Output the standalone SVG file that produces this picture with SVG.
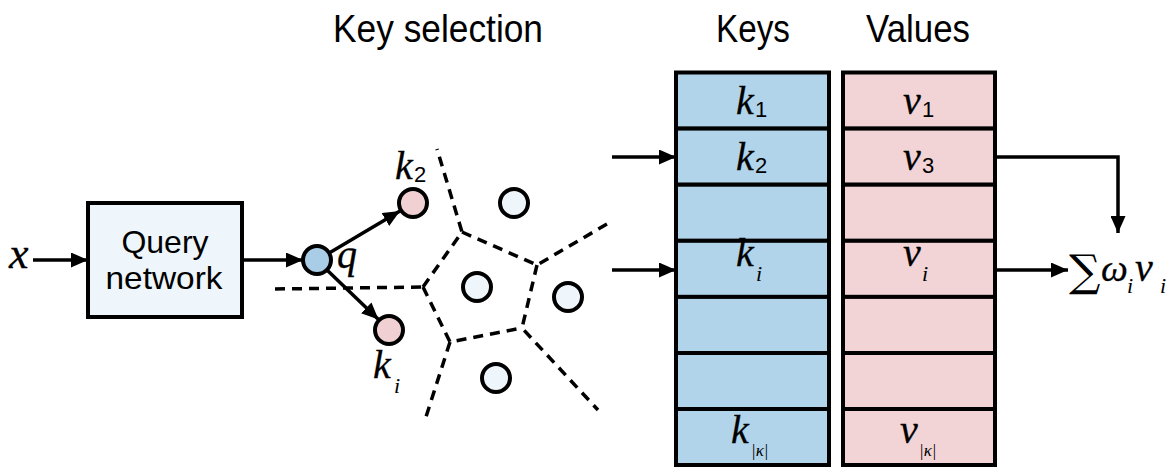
<svg xmlns="http://www.w3.org/2000/svg" width="1174" height="474" viewBox="0 0 1174 474">
<style>
.title{font-family:"Liberation Sans",Arial,sans-serif;font-size:38px;fill:#000}
.box{font-family:"Liberation Sans",Arial,sans-serif;font-size:32px;fill:#000}
.m{font-family:"Liberation Serif","Times New Roman",serif;font-style:italic;font-size:40px;fill:#000;stroke:#000;stroke-width:0.3}
.sub{font-family:"Liberation Sans",Arial,sans-serif;font-size:22px;fill:#000}
.subi{font-family:"Liberation Serif",serif;font-style:italic;font-size:22px;fill:#000}
.subk{font-family:"Liberation Serif",serif;font-style:italic;font-size:17px;fill:#000}
.ln{stroke:#000;stroke-width:3.5;fill:none}
.dash{stroke:#000;stroke-width:3.5;fill:none;stroke-dasharray:10 7}
.cell{stroke:#000;stroke-width:4}
.key{fill:#b1d4ea}
.val{fill:#f2d4d6}
.pt{stroke:#000;stroke-width:4}
</style>
<defs>
<marker id="arr" viewBox="0 0 10 10" refX="10" refY="5" markerUnits="userSpaceOnUse" markerWidth="17" markerHeight="15" orient="auto" preserveAspectRatio="none">
<path d="M0,0 L10,5 L0,10 z" fill="#000"/>
</marker>
</defs>

<text class="title" x="333" y="42" textLength="210" lengthAdjust="spacingAndGlyphs">Key selection</text>
<text class="title" x="716" y="42" textLength="74" lengthAdjust="spacingAndGlyphs">Keys</text>
<text class="title" x="866" y="42" textLength="104" lengthAdjust="spacingAndGlyphs">Values</text>

<g id="voronoi">
<polyline class="dash" points="275,289 423,287"/>
<polyline class="dash" points="423,287 462,232 437,149"/>
<polyline class="dash" points="462,232 537,265 607,224"/>
<polyline class="dash" points="537,265 522,328 598,410"/>
<polyline class="dash" points="423,287 450,342 522,328"/>
<polyline class="dash" points="450,342 425,420"/>
</g>

<g id="x-label"><text class="m" x="9" y="268" style="font-size:44px">x</text></g>

<g id="query-network">
<rect x="88" y="203" width="154" height="114" fill="#eef5fb" stroke="#000" stroke-width="4"/>
<text class="box" x="165" y="253" text-anchor="middle">Query</text>
<text class="box" x="164" y="289" text-anchor="middle" textLength="117" lengthAdjust="spacingAndGlyphs">network</text>
</g>

<g id="q">
<circle class="pt" cx="317" cy="260" r="14" fill="#a9cde6"/>
<text class="m" x="337" y="268">q</text>
</g>
<g id="k2">
<circle class="pt" cx="413" cy="203" r="14" fill="#f0d0d3"/>
<text class="m" x="395" y="179">k</text><text class="sub" x="414" y="182">2</text>
</g>
<g id="ki">
<circle class="pt" cx="389" cy="330" r="14" fill="#f0d0d3"/>
<text class="m" x="373" y="378">k</text><text class="subi" x="394" y="393">i</text>
</g>
<g id="other-keys">
<circle class="pt" cx="514" cy="203" r="14" fill="#eef5fb"/>
<circle class="pt" cx="477" cy="287" r="14" fill="#eef5fb"/>
<circle class="pt" cx="568" cy="297" r="14" fill="#eef5fb"/>
<circle class="pt" cx="496" cy="378" r="14" fill="#eef5fb"/>
</g>

<g id="keys">
<rect class="cell key" x="676" y="72.5" width="153" height="56.1"/>
<rect class="cell key" x="676" y="128.6" width="153" height="56.1"/>
<rect class="cell key" x="676" y="184.7" width="153" height="56.1"/>
<rect class="cell key" x="676" y="240.8" width="153" height="56.1"/>
<rect class="cell key" x="676" y="296.9" width="153" height="56.1"/>
<rect class="cell key" x="676" y="353" width="153" height="56"/>
<rect class="cell key" x="676" y="409" width="153" height="56"/>
<text class="m" x="736" y="114">k</text><text class="sub" x="755" y="117">1</text>
<text class="m" x="736" y="170">k</text><text class="sub" x="755" y="173">2</text>
<text class="m" x="736" y="266">k</text><text class="subi" x="756" y="281">i</text>
<text class="m" x="731" y="443">k</text><text class="subk" x="751" y="456">|κ|</text>
</g>

<g id="values">
<rect class="cell val" x="843" y="72.5" width="152" height="56.1"/>
<rect class="cell val" x="843" y="128.6" width="152" height="56.1"/>
<rect class="cell val" x="843" y="184.7" width="152" height="56.1"/>
<rect class="cell val" x="843" y="240.8" width="152" height="56.1"/>
<rect class="cell val" x="843" y="296.9" width="152" height="56.1"/>
<rect class="cell val" x="843" y="353" width="152" height="56"/>
<rect class="cell val" x="843" y="409" width="152" height="56"/>
<text class="m" x="903" y="114">v</text><text class="sub" x="922" y="117">1</text>
<text class="m" x="903" y="170">v</text><text class="sub" x="922" y="173">3</text>
<text class="m" x="903" y="266">v</text><text class="subi" x="922" y="281">i</text>
<text class="m" x="900" y="443">v</text><text class="subk" x="919" y="456">|κ|</text>
</g>

<g id="sum">
<text x="1069" y="286" style="font-family:'DejaVu Serif',serif;font-size:44px">∑</text>
<text class="m" x="1101" y="281" style="font-size:38px">ω</text><text class="subi" x="1127" y="293">i</text>
<text class="m" x="1135" y="281">v</text><text class="subi" x="1160" y="293">i</text>
</g>

<g id="connectors">
<line class="ln" x1="33" y1="260" x2="88" y2="260" marker-end="url(#arr)"/>
<line class="ln" x1="242" y1="260" x2="303" y2="260" marker-end="url(#arr)"/>
<line class="ln" x1="330" y1="252.4" x2="400" y2="210.9" marker-end="url(#arr)"/>
<line class="ln" x1="327.5" y1="270.4" x2="378.5" y2="319.6" marker-end="url(#arr)"/>
<line class="ln" x1="612" y1="157" x2="676" y2="157" marker-end="url(#arr)"/>
<line class="ln" x1="612" y1="270" x2="676" y2="270" marker-end="url(#arr)"/>
<path class="ln" d="M995,157 H1118 V233" marker-end="url(#arr)"/>
<line class="ln" x1="995" y1="270" x2="1068" y2="270" marker-end="url(#arr)"/>
</g>
</svg>
